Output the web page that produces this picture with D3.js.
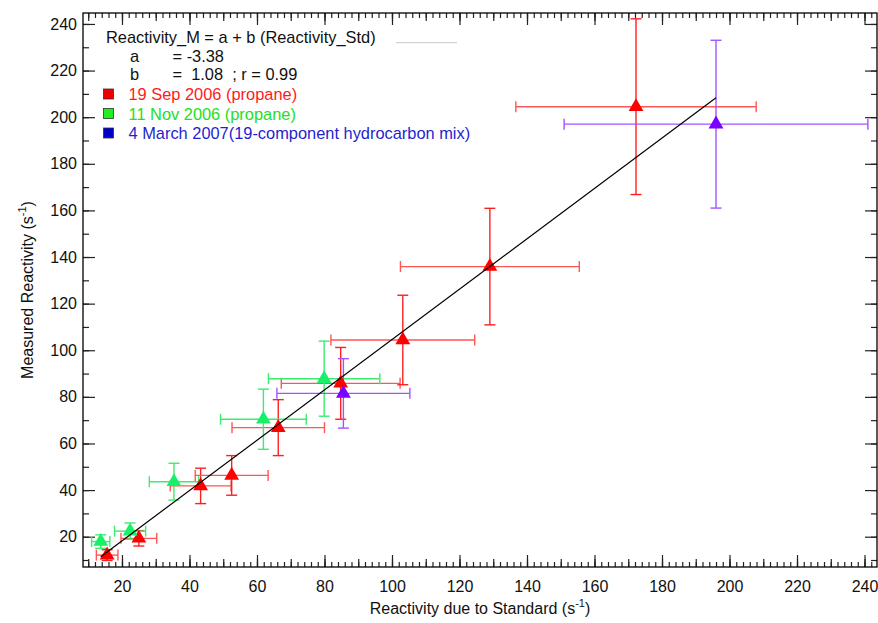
<!DOCTYPE html>
<html lang="en">
<head>
    <meta charset="UTF-8">
    <title>Reactivity</title>
    <script type="application/javascript" src="https://cdnjs.cloudflare.com/ajax/libs/d3/7.8.5/d3.min.js"></script>
    <style type="text/css">
        body { margin: 0; background: #fff; }
        svg { font-family: "Liberation Sans", Arial, sans-serif; display: block; }
        .axis path { display: none; }
        .axis line { stroke: #222; stroke-width: 1.2; }
        .axis text { font-size: 16px; fill: #111; }
        .pre { white-space: pre; }
    </style>
</head>
<body>
<svg width="878" height="623"></svg>
<script type="application/javascript">
    // values
    var redX = [15.6, 25, 43.3, 52.5, 66.3, 84.8, 103.2, 129, 172.3];
    var redY = [12.1, 19.3, 41.8, 46.3, 66.8, 85.8, 104.4, 135.9, 204.5];
    var redXErr = [3.2, 5.3, 9, 10.8, 13.7, 17.6, 21.3, 26.5, 35.6];
    var redYErr = [2.3, 3.3, 7.6, 8.5, 12, 15.4, 19.2, 25, 37.7];

    var greenX = [13.7, 22.4, 35.4, 61.9, 79.9];
    var greenY = [17.9, 22.4, 43.6, 70.4, 87.8];
    var greenXErr = [2.7, 4.6, 7.3, 12.7, 16.5];
    var greenYErr = [2.9, 3.5, 7.9, 12.9, 16.1];

    var blueX = [85.6, 196];
    var blueY = [81.5, 197];
    var blueXErr = [19.7, 45];
    var blueYErr = [14.9, 36];

    var FIT_A = -3.38;
    var FIT_B = 1.08;

    var xTicks = [20, 40, 60, 80, 100, 120, 140, 160, 180, 200, 220, 240];
    var yTicks = [20, 40, 60, 80, 100, 120, 140, 160, 180, 200, 220, 240];

    var svg = d3.select("svg");
    var box = {left: 83, right: 877, top: 13, bottom: 567};

    var x = d3.scaleLinear().domain([8.45, 243.7]).range([box.left, box.right]);
    var y = d3.scaleLinear().domain([7, 244.7]).range([box.bottom, box.top]);

    function zip(xs, ys, xe, ye) {
        return xs.map(function (v, i) {
            return {x: v, y: ys[i], xe: xe[i], ye: ye[i]};
        });
    }

    var series = [
        {name: "19 Sep 2006 (propane)", points: zip(redX, redY, redXErr, redYErr),
            marker: "#ff0000", xbar: "#ff5555", ybar: "#ff1f1f", text: "#ff1a1a", box: "#ee0000"},
        {name: "11 Nov 2006 (propane)", points: zip(greenX, greenY, greenXErr, greenYErr),
            marker: "#19f06a", xbar: "#3cec6e", ybar: "#3cec6e", text: "#22e022", box: "#22ee22"},
        {name: "4 March 2007(19-component hydrocarbon mix)", points: zip(blueX, blueY, blueXErr, blueYErr),
            marker: "#7a00ff", xbar: "#a452ff", ybar: "#a452ff", text: "#1f1fd0", box: "#0000c8"}
    ];

    // minor / medium ticks
    function tickRange(lo, hi, step) {
        return d3.range(lo, hi + 0.001, step);
    }
    var xMinor = tickRange(10, 242, 2);
    var xMedium = tickRange(10, 240, 10);
    var yMinor = tickRange(10, 240, 10);

    function addTicks(axisFn, scale, values, size, transform, fmt, pad) {
        var a = axisFn(scale).tickValues(values).tickSizeInner(size).tickSizeOuter(0)
            .tickPadding(pad || 0)
            .tickFormat(fmt || "");
        svg.append("g").attr("class", "axis").attr("transform", transform).call(a);
    }

    var atBottom = "translate(0," + box.bottom + ")";
    var atTop = "translate(0," + box.top + ")";
    var atLeft = "translate(" + box.left + ",0)";
    var atRight = "translate(" + box.right + ",0)";

    addTicks(d3.axisBottom, x, xMinor, -5, atBottom);
    addTicks(d3.axisBottom, x, xMedium, -8, atBottom);
    addTicks(d3.axisBottom, x, xTicks, -12, atBottom, d3.format("d"), 14);
    addTicks(d3.axisTop, x, xMinor, -5, atTop);
    addTicks(d3.axisTop, x, xMedium, -8, atTop);
    addTicks(d3.axisTop, x, xTicks, -12, atTop);

    addTicks(d3.axisLeft, y, yMinor, -6, atLeft);
    addTicks(d3.axisLeft, y, yTicks, -12, atLeft, d3.format("d"), 6);
    addTicks(d3.axisRight, y, yMinor, -6, atRight);
    addTicks(d3.axisRight, y, yTicks, -12, atRight);

    svg.append("rect")
        .attr("x", box.left).attr("y", box.top)
        .attr("width", box.right - box.left).attr("height", box.bottom - box.top)
        .attr("fill", "none").attr("stroke", "#000").attr("stroke-width", 1.3);

    // error bars + markers
    var CAP = 5.5;
    var plot = svg.append("g");
    series.forEach(function (s) {
        var g = plot.append("g");
        var bars = g.selectAll(".eb").data(s.points).enter().append("g");
        bars.append("line")
            .attr("x1", function (d) { return x(d.x - d.xe); })
            .attr("x2", function (d) { return x(d.x + d.xe); })
            .attr("y1", function (d) { return y(d.y); })
            .attr("y2", function (d) { return y(d.y); })
            .attr("stroke", s.xbar).attr("stroke-width", 1.4);
        [-1, 1].forEach(function (sign) {
            bars.append("line")
                .attr("x1", function (d) { return x(d.x + sign * d.xe); })
                .attr("x2", function (d) { return x(d.x + sign * d.xe); })
                .attr("y1", function (d) { return y(d.y) - CAP; })
                .attr("y2", function (d) { return y(d.y) + CAP; })
                .attr("stroke", s.xbar).attr("stroke-width", 1.4);
            bars.append("line")
                .attr("x1", function (d) { return x(d.x) - CAP; })
                .attr("x2", function (d) { return x(d.x) + CAP; })
                .attr("y1", function (d) { return y(d.y + sign * d.ye); })
                .attr("y2", function (d) { return y(d.y + sign * d.ye); })
                .attr("stroke", s.ybar).attr("stroke-width", 1.4);
        });
        bars.append("line")
            .attr("x1", function (d) { return x(d.x); })
            .attr("x2", function (d) { return x(d.x); })
            .attr("y1", function (d) { return y(d.y - d.ye); })
            .attr("y2", function (d) { return y(d.y + d.ye); })
            .attr("stroke", s.ybar).attr("stroke-width", 1.4);
    });
    series.forEach(function (s) {
        plot.append("g").selectAll("path").data(s.points).enter().append("path")
            .attr("d", d3.symbol().type(d3.symbolTriangle).size(95))
            .attr("transform", function (d) { return "translate(" + x(d.x) + "," + y(d.y) + ")"; })
            .attr("fill", s.marker);
    });

    // fit line across the data range
    var allX = redX.concat(greenX, blueX);
    var ext = d3.extent(allX);
    svg.append("line")
        .attr("x1", x(ext[0])).attr("y1", y(FIT_A + FIT_B * ext[0]))
        .attr("x2", x(ext[1])).attr("y2", y(FIT_A + FIT_B * ext[1]))
        .attr("stroke", "#000").attr("stroke-width", 1.2);

    // legend / annotation
    var leg = svg.append("g").attr("font-size", 16.4).attr("fill", "#111");
    leg.append("text").attr("x", 106).attr("y", 42.5).text("Reactivity_M = a + b (Reactivity_Std)");
    leg.append("line").attr("x1", 396).attr("x2", 457).attr("y1", 42.7).attr("y2", 42.7)
        .attr("stroke", "#c8c8c8").attr("stroke-width", 1);
    leg.append("text").attr("x", 130).attr("y", 62).text("a");
    leg.append("text").attr("x", 172.5).attr("y", 62).text("= -3.38");
    leg.append("text").attr("x", 130).attr("y", 80).text("b");
    leg.append("text").attr("class", "pre").attr("xml:space", "preserve")
        .attr("x", 172.5).attr("y", 80).text("=  1.08  ; r = 0.99");

    series.forEach(function (s, i) {
        var yy = 100 + i * 19.5;
        leg.append("rect").attr("x", 103.5).attr("y", yy - 11).attr("width", 10).attr("height", 10)
            .attr("fill", s.box).attr("stroke", "#333").attr("stroke-width", 0.8);
        leg.append("text").attr("x", 128.5).attr("y", yy).attr("fill", s.text).text(s.name);
    });

    // axis titles
    var xt = svg.append("text").attr("x", (box.left + box.right) / 2).attr("y", 614)
        .attr("text-anchor", "middle").attr("font-size", 16).attr("fill", "#111");
    xt.append("tspan").text("Reactivity due to Standard (s");
    xt.append("tspan").attr("dy", -7).attr("font-size", 11).text("-1");
    xt.append("tspan").attr("dy", 7).text(")");

    var yt = svg.append("text")
        .attr("transform", "translate(33," + ((box.top + box.bottom) / 2) + ") rotate(-90)")
        .attr("text-anchor", "middle").attr("font-size", 16).attr("fill", "#111");
    yt.append("tspan").text("Measured Reactivity (s");
    yt.append("tspan").attr("dy", -7).attr("font-size", 11).text("-1");
    yt.append("tspan").attr("dy", 7).text(")");
</script>
</body>
</html>
